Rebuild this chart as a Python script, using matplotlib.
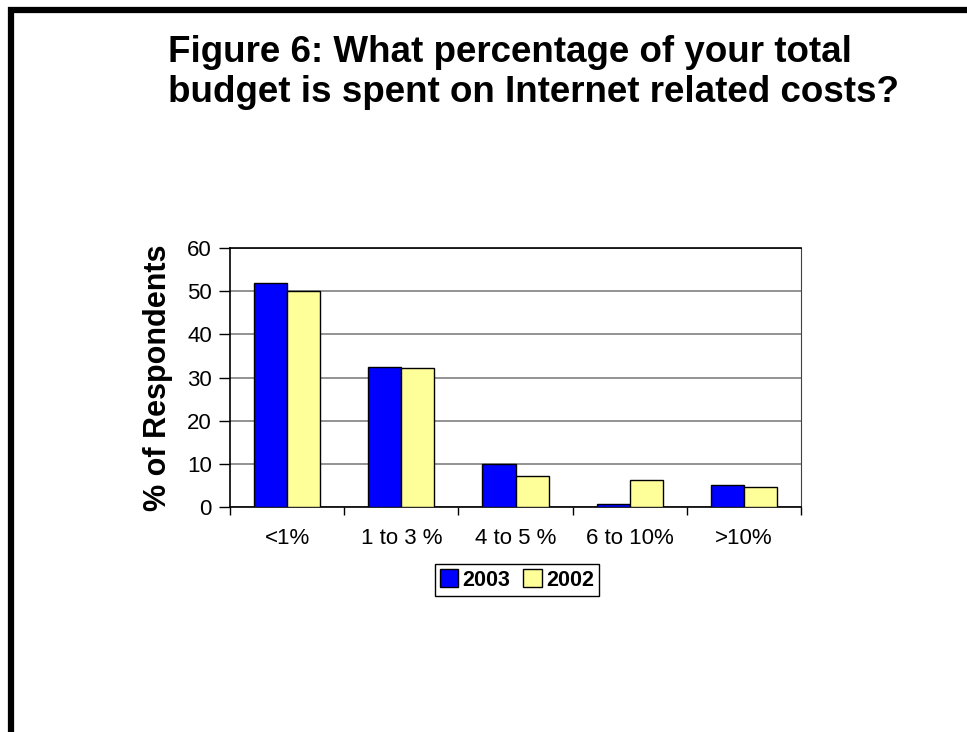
import matplotlib.pyplot as plt
import numpy as np
from matplotlib.lines import Line2D
from matplotlib.patches import Patch

categories = ['<1%', '1 to 3 %', '4 to 5 %', '6 to 10%', '>10%']
pct_2003 = [52.0, 32.5, 10.0, 0.8, 5.1]
pct_2002 = [50.0, 32.3, 7.2, 6.3, 4.6]
title_lines = ['Figure 6: What percentage of your total',
               'budget is spent on Internet related costs?']

plt.rcParams['font.family'] = 'Liberation Sans'

fig = plt.figure(figsize=(9.67, 7.32), dpi=100)
fig.patch.set_facecolor('white')

# slide frame, top and left edges
fig.add_artist(Line2D([8 / 967, 1.0], [1 - 10 / 732, 1 - 10 / 732], color='black', lw=4.5,
                      transform=fig.transFigure, solid_capstyle='butt'))
fig.add_artist(Line2D([11 / 967, 11 / 967], [1 - 7 / 732, 0.0], color='black', lw=4.5,
                      transform=fig.transFigure, solid_capstyle='butt'))

for i, line in enumerate(title_lines):
    fig.text(168 / 967, 1 - (62 + 40 * i) / 732, line, ha='left', va='baseline',
             fontsize=26.5, fontweight='bold')

ax = fig.add_axes([230 / 967, 1 - 507 / 732, 571 / 967, 259 / 732])
x = np.arange(len(categories))
w = 0.29
ax.bar(x - w / 2, pct_2003, w, color='#0000FF', edgecolor='black', linewidth=1, zorder=3)
ax.bar(x + w / 2, pct_2002, w, color='#FFFF99', edgecolor='black', linewidth=1, zorder=3)

ax.set_xlim(-0.5, len(categories) - 0.5)
ax.set_ylim(0, 60)
ax.set_yticks(np.arange(0, 61, 10))
ax.yaxis.grid(True, color='#808080', lw=1.2, zorder=0)
ax.tick_params(axis='y', direction='out', length=8, width=1, labelsize=16, pad=5)

ax.set_xticks(np.arange(-0.5, len(categories), 1.0))
ax.set_xticklabels([])
ax.set_xticks(x, minor=True)
ax.set_xticklabels(categories, minor=True)
ax.tick_params(axis='x', which='major', direction='out', length=6, width=1)
ax.tick_params(axis='x', which='minor', length=0, labelsize=16, pad=15)

for side in ['left', 'bottom', 'top']:
    ax.spines[side].set_color('black')
    ax.spines[side].set_linewidth(1.2)
ax.spines['right'].set_color('#404040')

ax.set_ylabel('% of Respondents', fontsize=22, fontweight='bold', labelpad=10)

handles = [Patch(facecolor='#0000FF', edgecolor='black', label='2003'),
           Patch(facecolor='#FFFF99', edgecolor='black', label='2002')]
leg = fig.legend(handles=handles, loc='center', bbox_to_anchor=(517 / 967, 1 - 580 / 732), ncol=2,
                 prop={'weight': 'bold', 'size': 15.5}, fancybox=False, edgecolor='black',
                 handlelength=0.85, handleheight=0.85, handletextpad=0.2, columnspacing=0.6,
                 borderpad=0.25, borderaxespad=0.3, framealpha=1)
leg.get_frame().set_linewidth(1)

fig.savefig('out.png', dpi=100)
